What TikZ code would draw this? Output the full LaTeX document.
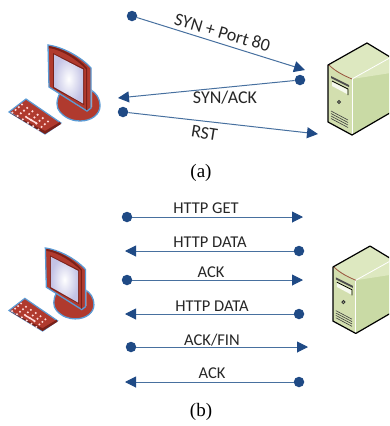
\documentclass[tikz,border=0pt]{standalone}
\usepackage{fontspec}
\setmainfont{Carlito}
\newfontfamily\capfont{Liberation Serif}
\usetikzlibrary{arrows.meta}
\definecolor{dotblue}{HTML}{1F4A85}
\definecolor{lineblue}{HTML}{47709F}
\definecolor{halo}{HTML}{5B9BD5}
\definecolor{redmain}{HTML}{B03A2E}
\definecolor{reddark}{HTML}{7A2018}
\definecolor{srvfront}{HTML}{D3DFAF}
\definecolor{srvside}{HTML}{C9DAA5}
\definecolor{srvtop}{HTML}{DDE8C0}
\tikzset{
  dotnode/.style={circle,fill=dotblue,draw=none,inner sep=0pt,minimum size=10.5pt},
  link/.style={draw=lineblue,line width=1pt,-{Triangle[length=11pt,width=11pt,color=dotblue]}},
  lbl/.style={font=\fontsize{16.5}{18}\selectfont,text=black!85,inner sep=0pt},
  lbla/.style={font=\fontsize{18}{20}\selectfont,text=black!85,inner sep=0pt},
  caption/.style={font=\capfont\fontsize{19}{22}\selectfont,inner sep=0pt},
  pics/computer/.style={code={
    % base
    \fill[redmain,draw=halo,line width=1.3pt] (60,93) .. controls (56,100) and (56,108) .. (60,112) .. controls (66,119) and (74,121) .. (80,121) .. controls (92,121) and (100,114) .. (100,106) .. controls (100,98) and (96,93) .. (91,90) -- cycle;
    \fill[white!80!redmain] (87,92) -- (92,90) -- (92,107) -- (87,110) -- cycle;
    % monitor
    \fill[redmain,draw=halo,line width=1.3pt] (48,45) .. controls (62,47) and (80,56) .. (91,68) -- (91,108) -- (87,111) -- (49,87) -- cycle;
    \fill[reddark] (49,46) .. controls (62,48) and (78,57) .. (87,68) -- (87,110) -- (86,110) -- (86,69) .. controls (76,59) and (62,50) .. (49,48) -- cycle;
    \fill[reddark] (53,53) -- (84,68.5) -- (84,105) -- (53,88) -- cycle;
    \shade[inner color=white,outer color=blue!15!white!90!black] (54,54.5) -- (83,69.5) -- (83,103.5) -- (54,87) -- cycle;
    % keyboard
    \fill[redmain,draw=halo,line width=1.2pt] (9,112) -- (26,99) -- (61,123) -- (45,134) -- cycle;
    \fill[reddark] (10,113) -- (45,131) -- (60,122) -- (61,124) -- (45,134) -- cycle;
    \foreach \i in {0,...,5}{\foreach \j in {0,...,3}{
      \fill[white!85!red] ({22+\i*5.2+\j*(-3.2)},{104.5+\i*3.4+\j*2.7}) circle (1.2);
    }}
    \draw[white!85!red,line width=1.5pt] (26,117) -- (37,123.5);
  }},
  pics/server/.style={code={
    \fill[srvside] (352,79) -- (410,47) -- (410,102) -- (352,135) -- cycle;
    \fill[srvtop] (328,65) -- (367,43) -- (410,70) -- (352,79) -- cycle;
    \fill[srvfront] (328,65) -- (352,79) -- (352,135) -- (328,122) -- cycle;
    \draw[white,line width=.8pt] (352,79) -- (395,55);
    \draw[white,line width=.8pt] (352,79) -- (352,135);
    \draw[black!45!srvside!70!red,line width=.8pt] (329,65) .. controls (336,72) and (345,76) .. (352,79);
    \draw[black,line width=1.2pt,line join=round] (395,60) -- (367,43) -- (328,65) -- (328,122) -- (352,135) -- (395,110);
    \fill[black!70] (331,76) -- (349,85) -- (349,87) -- (331,78) -- cycle;
    \draw[black,line width=.8pt] (332,81) -- (348,89) -- (348,95);
    \fill[white!80!srvfront] (332,82) -- (347,89.5) -- (347,94) -- (332,86) -- cycle;
    \draw[black!80,line width=.9pt] (339,102) circle (1.6);
    \foreach \d in {0,2.5,5,7.5}{\draw[black!75,line width=.6pt] (331,{111+\d}) -- (348,{120+\d});}
  }}
}
\begin{document}
\begin{tikzpicture}[x=1pt,y=-1pt]
\useasboundingbox (0,0) rectangle (389,426);
\begin{scope}
\clip (0,0) rectangle (389,426);
% icons
\path (0,0) pic {computer};
\path (0,0) pic {server};
\begin{scope}[shift={(0.6,206)},scale=.933]
  \path (0,0) pic[transform shape] {computer};
\end{scope}
\begin{scope}[shift={(21.4,205.2)},scale=.95]
  \path (0,0) pic[transform shape] {server};
\end{scope}
\end{scope}
% panel (a)
\node[dotnode] (a1) at (132,16) {};
\coordinate (a1t) at (305,70);
\draw[link] (a1) -- (a1t);
\node[dotnode] (a2) at (300,80) {};
\coordinate (a2t) at (118,98);
\draw[link] (a2) -- (a2t);
\node[dotnode] (a3) at (123,112) {};
\coordinate (a3t) at (318,134);
\draw[link] (a3) -- (a3t);
\node[lbla,rotate=-16] (la1) at (222.5,32.5) {SYN + Port 80};
\node[lbla] (la2) at (225,98) {SYN/ACK};
\node[lbla,rotate=-9] (la3) at (204.5,133) {RST};
\node[caption] (capa) at (201,173) {(a)};
% panel (b)
\node[dotnode] (b1) at (127,217) {};
\coordinate (b1t) at (303,217);
\draw[link] (b1) -- (b1t);
\node[dotnode] (b2) at (299,251) {};
\coordinate (b2t) at (125,251);
\draw[link] (b2) -- (b2t);
\node[dotnode] (b3) at (127,280) {};
\coordinate (b3t) at (303,280);
\draw[link] (b3) -- (b3t);
\node[dotnode] (b4) at (299,314) {};
\coordinate (b4t) at (125,314);
\draw[link] (b4) -- (b4t);
\node[dotnode] (b5) at (131,347) {};
\coordinate (b5t) at (308,347);
\draw[link] (b5) -- (b5t);
\node[dotnode] (b6) at (299,382) {};
\coordinate (b6t) at (125,382);
\draw[link] (b6) -- (b6t);
\node[lbl] (lb1) at (206,208) {HTTP GET};
\node[lbl] (lb2) at (210,242) {HTTP DATA};
\node[lbl] (lb3) at (211,272) {ACK};
\node[lbl] (lb4) at (212,306) {HTTP DATA};
\node[lbl] (lb5) at (212,340) {ACK/FIN};
\node[lbl] (lb6) at (212,373) {ACK};
\node[caption] (capb) at (201,412) {(b)};
\end{tikzpicture}
\end{document}
